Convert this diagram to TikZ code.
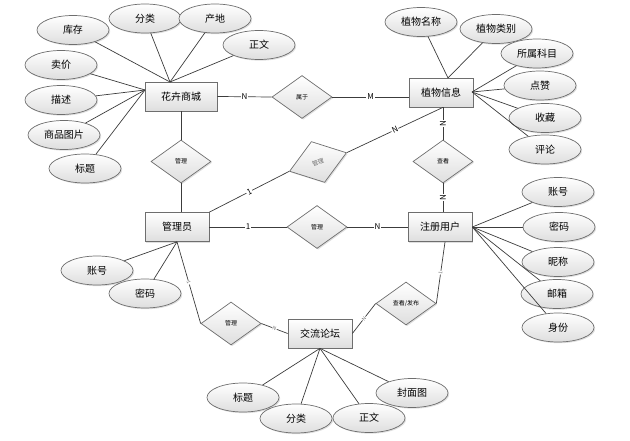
\documentclass[tikz,border=0pt]{standalone}
\usepackage{fontspec}
\setmainfont{Noto Sans CJK SC}
\usetikzlibrary{shapes.geometric,shadows,calc}

\begin{document}
\begin{tikzpicture}[x=1pt,y=-1pt,line width=0.7pt,
  shade/.style={top color=white,bottom color=fillgray,
    drop shadow={opacity=0.25,shadow xshift=1.2pt,shadow yshift=-1.2pt}},
  entity/.style={shade,draw=boxline,rectangle,minimum width=64pt,
    minimum height=29pt,inner sep=0pt,font=\fontsize{10}{10}\selectfont},
  attr/.style={shade,draw=boxline,ellipse,minimum width=72pt,
    minimum height=29pt,inner sep=0pt,font=\fontsize{10}{10}\selectfont},
  rel/.style={shade,draw=boxline,diamond,minimum width=60pt,
    minimum height=43pt,inner sep=0pt,font=\fontsize{6}{6}\selectfont},
  lbl/.style={fill=white,inner sep=0.8pt,font=\fontsize{8}{8}\selectfont},
  tinylbl/.style={fill=white,inner sep=0.5pt,text=boxline,font=\fontsize{5}{5}\selectfont}]
\definecolor{boxline}{RGB}{110,110,110}
\definecolor{fillgray}{RGB}{222,222,222}
\definecolor{link}{RGB}{60,60,60}

\useasboundingbox (0,0) rectangle (630,441);

% Entities.
\node[entity,minimum width=72pt] (shop) at (181,96.5) {花卉商城};
\node[entity] (plant) at (441,92.5) {植物信息};
\node[entity] (admin) at (177,227) {管理员};
\node[entity] (user) at (440,227) {注册用户};
\node[entity] (forum) at (320,333.5) {交流论坛};

% Relationships.
\node[rel] (belong) at (302,97) {属于};
\node[rel] (manageShop) at (181,161.5) {管理};
\node[rel] (view) at (443,161.5) {查看};
\node[rel] (manageUser) at (317,227) {管理};
\node[rel,rotate=18,text=boxline] (managePlant) at (318,162) {管理};
\node[rel] (manageForum) at (231,323.5) {管理};
\node[rel] (post) at (406,303.5) {查看/发布};

% Attributes of the shop.
\node[attr] (stock) at (73,30) {库存};
\node[attr] (sort) at (145,18.5) {分类};
\node[attr] (origin) at (215,18.5) {产地};
\node[attr] (text) at (259,45) {正文};
\node[attr] (price) at (61,65) {卖价};
\node[attr] (desc) at (61,100) {描述};
\node[attr] (picture) at (64,135) {商品图片};
\node[attr] (title) at (85,168.5) {标题};

% Attributes of the plant.
\node[attr] (pname) at (421,22) {植物名称};
\node[attr] (pkind) at (496,29) {植物类别};
\node[attr] (family) at (537,53.5) {所属科目};
\node[attr] (like) at (540,85.5) {点赞};
\node[attr] (collect) at (545,118) {收藏};
\node[attr] (comment) at (545,149.5) {评论};

% Attributes of the user.
\node[attr] (uacc) at (558,192) {账号};
\node[attr] (upwd) at (559,227) {密码};
\node[attr] (nick) at (558,262) {昵称};
\node[attr] (mail) at (557,294) {邮箱};
\node[attr] (role) at (558,327.5) {身份};

% Attributes of the admin.
\node[attr] (aacc) at (97,270.5) {账号};
\node[attr] (apwd) at (145,293.5) {密码};

% Attributes of the forum.
\node[attr] (ftitle) at (243,397.5) {标题};
\node[attr] (fsort) at (296,418.5) {分类};
\node[attr] (ftext) at (369,418) {正文};
\node[attr] (cover) at (412,393) {封面图};

% Points where attribute lines meet.
\coordinate (shopT) at (170,82);
\coordinate (shopL) at (145,90);
\coordinate (plantT) at (448,78);
\coordinate (plantR) at (472,92);
\coordinate (plantS) at (view.north |- plant.south);
\coordinate (userS) at (445,242);

\begin{scope}[draw=link]
\foreach \a in {stock,sort,origin,text} \draw (\a) -- (shopT);
\foreach \a in {price,desc,picture,title} \draw (\a) -- (shopL);
\foreach \a in {pname,pkind} \draw (\a) -- (plantT);
\foreach \a in {family,like,collect,comment} \draw (\a) -- (plantR);
\foreach \a in {uacc,upwd,nick,mail,role} \draw (\a) -- (user.east);
\foreach \a in {aacc,apwd} \draw (\a) -- (admin.south);
\foreach \a in {ftitle,fsort,ftext,cover} \draw (\a) -- (forum.south);

% Relationship lines with cardinalities.
\draw (shop.east) -- (belong.west) node[midway,lbl] {N};
\draw (belong.east) -- (belong.east -| plant.west) node[midway,lbl] {M};
\draw (plantS) -- (view.north) node[midway,lbl,rotate=90] {N};
\draw (view.south) -- (view.south |- user.north) node[midway,lbl,rotate=90] {N};
\draw (shop.south) -- (manageShop.north);
\draw (manageShop.south) -- (manageShop.south |- admin.north);
\draw (admin.east) -- (manageUser.west) node[midway,lbl] {1};
\draw (manageUser.east) -- (user.west) node[midway,lbl] {N};
\draw (admin.north east) -- (managePlant.west) node[midway,lbl,sloped] {1};
\draw (managePlant.east) -- (plantS) node[midway,lbl,sloped] {N};
\draw (admin.south) -- (manageForum.west) node[midway,tinylbl,sloped] {1};
\draw (manageForum.east) -- (forum.west) node[midway,tinylbl,sloped] {N};
\draw (forum.east) -- (post.west) node[midway,tinylbl,sloped] {N};
\draw (post.east) -- (userS) node[midway,tinylbl,sloped] {1};
\end{scope}
\end{tikzpicture}
\end{document}
